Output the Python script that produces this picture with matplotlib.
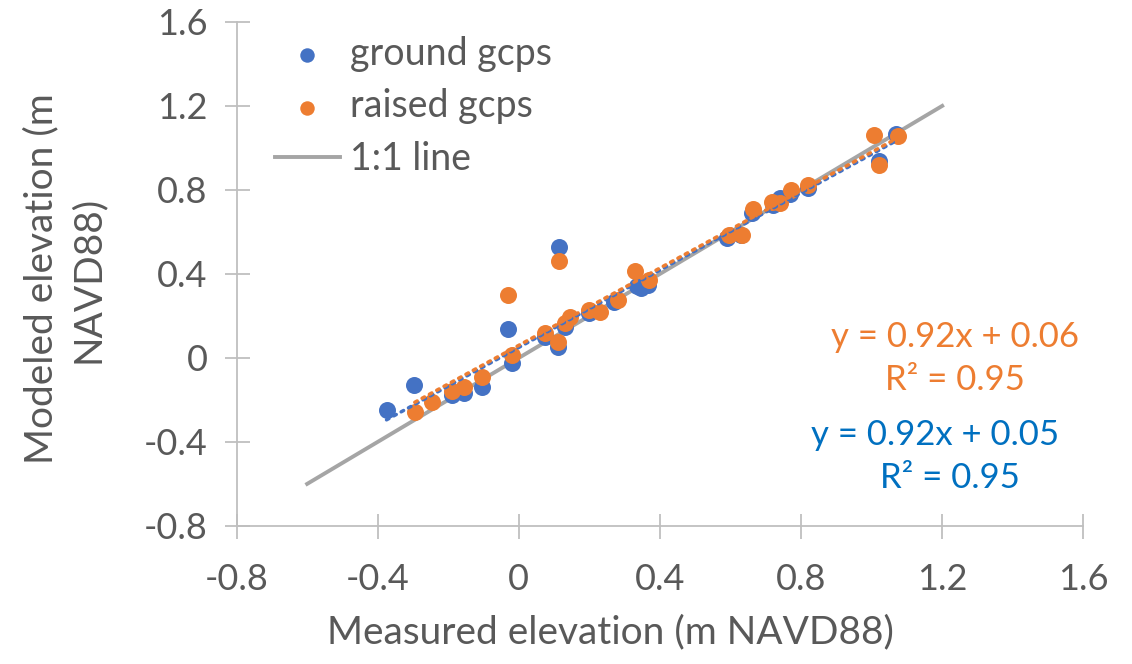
import numpy as np
import matplotlib
matplotlib.use('Agg')
import matplotlib.pyplot as plt

plt.rcParams['font.family'] = ['Lato', 'DejaVu Sans']

# Datos
ground_x = [-0.375, -0.297, -0.19, -0.155, -0.105, -0.03, -0.02, 0.075, 0.11, 0.115, 0.13,
            0.20, 0.27, 0.335, 0.345, 0.365, 0.59, 0.63, 0.66, 0.72, 0.74, 0.77, 0.82, 1.02, 1.07]
ground_y = [-0.25, -0.127, -0.176, -0.168, -0.137, 0.137, -0.025, 0.10, 0.054, 0.527, 0.146,
            0.213, 0.268, 0.34, 0.335, 0.345, 0.57, 0.585, 0.69, 0.73, 0.76, 0.78, 0.808, 0.94, 1.065]

raised_x = [-0.295, -0.245, -0.19, -0.155, -0.105, -0.03, -0.02, 0.075, 0.11, 0.115, 0.13,
            0.145, 0.20, 0.23, 0.28, 0.33, 0.37, 0.595, 0.632, 0.663, 0.717, 0.74, 0.771,
            0.821, 1.007, 1.02, 1.074]
raised_y = [-0.259, -0.211, -0.157, -0.137, -0.089, 0.30, 0.014, 0.118, 0.078, 0.463, 0.165,
            0.197, 0.229, 0.22, 0.276, 0.416, 0.371, 0.586, 0.586, 0.708, 0.744, 0.737, 0.80,
            0.824, 1.062, 0.919, 1.059]

# Lineas de tendencia (ecuaciones del grafico)
ground_fit = (0.92, 0.05)
raised_fit = (0.92, 0.06)
one_to_one = [-0.6, 1.2]

ticks = [-0.8, -0.4, 0, 0.4, 0.8, 1.2, 1.6]
tick_labels = ['-0.8', '-0.4', '0', '0.4', '0.8', '1.2', '1.6']

blue = '#4472C4'
orange = '#ED7D31'
gray = '#A5A5A5'
txt = '#595959'

fig = plt.figure(figsize=(11.32, 6.64), dpi=100)
ax = fig.add_axes([0.209, 0.208, 0.748, 0.759])

ax.plot(one_to_one, one_to_one, color=gray, lw=2.8, label='1:1 line', zorder=1)

ax.scatter(ground_x, ground_y, s=150, color=blue, label='ground gcps', zorder=3, linewidths=0)
ax.scatter(raised_x, raised_y, s=150, color=orange, label='raised gcps', zorder=4, linewidths=0)

gx = np.array([min(ground_x), max(ground_x)])
ax.plot(gx, ground_fit[0] * gx + ground_fit[1], color=blue, lw=2.5, ls=(0, (0.8, 1.6)),
        dash_capstyle='round', zorder=5)
rx = np.array([min(raised_x), max(raised_x)])
ax.plot(rx, raised_fit[0] * rx + raised_fit[1], color=orange, lw=2.5, ls=(0, (0.8, 1.6)),
        dash_capstyle='round', zorder=5)

# Ecuaciones de las tendencias
ax.text(1.237, 0.10, 'y = 0.92x + 0.06', color=orange, fontsize=25, ha='center', va='center')
ax.text(1.237, -0.105, 'R² = 0.95', color=orange, fontsize=25, ha='center', va='center')
ax.text(1.18, -0.367, 'y = 0.92x + 0.05', color='#0070C0', fontsize=25, ha='center', va='center')
ax.text(1.223, -0.571, 'R² = 0.95', color='#0070C0', fontsize=25, ha='center', va='center')

ax.set_xlim(-0.8, 1.6)
ax.set_ylim(-0.8, 1.6)
ax.set_xticks(ticks)
ax.set_xticklabels(tick_labels)
ax.set_yticks(ticks)
ax.set_yticklabels(tick_labels)

for s in ['top', 'right']:
    ax.spines[s].set_visible(False)
for s in ['left', 'bottom']:
    ax.spines[s].set_color('#BFBFBF')
    ax.spines[s].set_linewidth(1.3)
ax.tick_params(direction='inout', length=18, width=1.3, color='#BFBFBF',
               labelsize=26, labelcolor=txt, pad=12)
ax.tick_params(axis='x', pad=18)

ax.set_xlabel('Measured elevation (m NAVD88)', fontsize=28, color=txt)
ax.xaxis.set_label_coords(0.442, -0.175)
ax.set_ylabel('Modeled elevation (m\nNAVD88)', fontsize=28, color=txt, linespacing=1.35)
ax.yaxis.set_label_coords(-0.155, 0.49)

handles, labels = ax.get_legend_handles_labels()
order = [1, 2, 0]
leg = ax.legend([handles[i] for i in order], [labels[i] for i in order],
                loc='upper left', bbox_to_anchor=(0.005, 1.04), frameon=False,
                fontsize=27, labelcolor=txt, handlelength=1.75, handletextpad=0.25,
                labelspacing=0.45, markerscale=0.85)

fig.savefig('out.png', dpi=100)
